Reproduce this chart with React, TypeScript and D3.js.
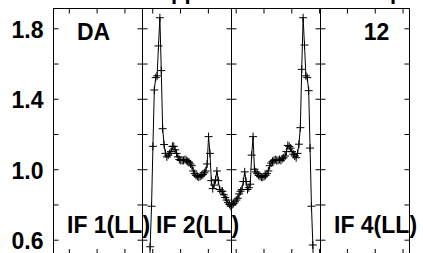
import { useEffect, useRef } from "react";
import * as d3 from "d3";

// Panels: four IFs of 32 MHz, 64 channels each
const ifLabels = ["IF 1(LL)", "IF 2(LL)", "", "IF 4(LL)"];
const ifStartMHz = [4.5, 36.5, 68.5, 100.5];
const ifWidthMHz = 32;
const chanWidthMHz = 0.5;

const xTickValues = [10, 20, 30, 40, 50, 60, 70, 80, 90, 100, 110, 120, 130];
const yTickValues = [0.6, 0.8, 1.0, 1.2, 1.4, 1.6, 1.8];
const yTickLabels = ["0.6", "", "1.0", "", "1.4", "", "1.8"];

const baselineLeft = "DA";
const baselineRight = "12";
const title = "Applied to data in sample";

// normalised amplitude per channel
const ampIF1: number[] = [];
const ampIF2 = [
  0.05, 0.05, 0.08, 0.12, 0.25, 0.56, 0.79, 1.13, 1.45, 1.52, 1.53, 1.7, 1.86, 1.56, 1.23, 1.14,
  1.09, 1.07, 1.08, 1.09, 1.1, 1.13, 1.13, 1.11, 1.09, 1.07, 1.055, 1.05, 1.05, 1.05, 1.055, 1.05,
  1.045, 1.04, 1.03, 1.02, 0.99, 0.975, 0.965, 0.96, 0.955, 0.96, 0.965, 0.97, 0.98, 0.99, 1.03, 1.185,
  1.09, 0.935, 0.89, 0.91, 0.94, 0.99, 0.935, 0.885, 0.875, 0.875, 0.855, 0.84, 0.825, 0.81, 0.8, 0.79,
];
const ampIF3 = [
  0.8, 0.805, 0.815, 0.825, 0.835, 0.86, 0.875, 0.885, 0.93, 0.985, 0.93, 0.885, 0.895, 0.915, 1.08, 1.185,
  1.0, 0.985, 0.975, 0.965, 0.96, 0.955, 0.955, 0.96, 0.965, 0.975, 0.99, 1.02, 1.035, 1.045, 1.05, 1.055,
  1.05, 1.05, 1.055, 1.05, 1.06, 1.065, 1.075, 1.1, 1.135, 1.13, 1.12, 1.1, 1.085, 1.075, 1.065, 1.09,
  1.142, 1.236, 1.567, 1.86, 1.705, 1.53, 1.52, 1.446, 1.12, 0.79, 0.57, 0.25, 0.12, 0.08, 0.05, 0.05,
];
const ampIF4: number[] = [];
const ampByIF = [ampIF1, ampIF2, ampIF3, ampIF4];

export default function App() {
  const svgRef = useRef<SVGSVGElement>(null);
  const width = 423;
  const height = 253;

  useEffect(() => {
    if (!svgRef.current) return;
    const svg = d3.select(svgRef.current);
    const font = "'Liberation Sans', Arial, Helvetica, sans-serif";

    const plotLeft = 53.5;
    const panelW = 89;
    const plotTop = 8.5;
    const plotBottom = 254;

    const y = d3.scaleLinear([0.5188, 1.9124], [plotBottom, plotTop]);

    // cropped title, only descenders reach the picture
    svg.append("text")
      .attr("x", 155.2)
      .attr("y", -1)
      .attr("font-family", font)
      .attr("font-weight", "bold")
      .attr("font-size", 22)
      .attr("fill", "#000")
      .text(title);

    ifStartMHz.forEach((start, k) => {
      const left = plotLeft + k * panelW;
      const right = left + panelW;
      const x = d3.scaleLinear([start, start + ifWidthMHz], [left, right]);
      const ticks = xTickValues.filter(t => t > start && t < start + ifWidthMHz);
      const g = svg.append("g");

      const clipId = `clip-if${k}`;
      g.append("clipPath").attr("id", clipId)
        .append("rect")
        .attr("x", left).attr("y", plotTop)
        .attr("width", panelW).attr("height", plotBottom - plotTop);

      // top and bottom ticks, pointing inward
      g.append("g")
        .attr("transform", `translate(0,${plotTop})`)
        .call(d3.axisTop(x).tickValues(ticks).tickSize(-5).tickFormat(() => ""))
        .call(a => a.select(".domain").remove());
      g.append("g")
        .attr("transform", `translate(0,${plotBottom})`)
        .call(d3.axisBottom(x).tickValues(ticks).tickSize(-5).tickFormat(() => ""))
        .call(a => a.select(".domain").remove());

      // left and right ticks, pointing inward
      g.append("g")
        .attr("transform", `translate(${left},0)`)
        .call(d3.axisLeft(y).tickValues(yTickValues).tickSize(-5).tickPadding(10)
          .tickFormat((d, i) => (k === 0 ? yTickLabels[i] : "")))
        .call(a => a.select(".domain").remove())
        .call(a => a.selectAll("text")
          .attr("font-family", font)
          .attr("font-weight", "bold")
          .attr("font-size", 23)
          .attr("dy", "0.4em"));
      g.append("g")
        .attr("transform", `translate(${right},0)`)
        .call(d3.axisRight(y).tickValues(yTickValues).tickSize(-5).tickFormat(() => ""))
        .call(a => a.select(".domain").remove());

      // frame
      g.append("rect")
        .attr("x", left).attr("y", plotTop)
        .attr("width", panelW).attr("height", plotBottom - plotTop)
        .attr("fill", "none")
        .attr("stroke", "#000")
        .attr("stroke-width", 1);

      // data
      const amp = ampByIF[k];
      if (amp.length) {
        const pts: [number, number][] = amp.map((v, i) => [
          x(start + (i + 0.5) * chanWidthMHz),
          y(v),
        ]);
        const line = d3.line();
        const dg = g.append("g").attr("clip-path", `url(#${clipId})`);
        dg.append("path")
          .attr("fill", "none")
          .attr("stroke", "#000")
          .attr("stroke-width", 1)
          .attr("d", line(pts));
        dg.selectAll("path.mark")
          .data(pts)
          .join("path")
          .attr("class", "mark")
          .attr("transform", d => `translate(${d[0]},${d[1]})`)
          .attr("d", "M-4,0H4M0,-4V4")
          .attr("stroke", "#000")
          .attr("stroke-width", 1)
          .attr("fill", "none");
      }

      // IF label
      if (ifLabels[k]) {
        g.append("text")
          .attr("x", left + 13.5)
          .attr("y", 233.3)
          .attr("font-family", font)
          .attr("font-weight", "bold")
          .attr("font-size", 23)
          .attr("fill", "#000")
          .text(ifLabels[k]);
      }
    });

    // baseline antennas
    svg.append("text")
      .attr("x", 77)
      .attr("y", 40)
      .attr("font-family", font)
      .attr("font-weight", "bold")
      .attr("font-size", 23)
      .attr("fill", "#000")
      .text(baselineLeft);
    svg.append("text")
      .attr("x", 389.3)
      .attr("y", 40)
      .attr("text-anchor", "end")
      .attr("font-family", font)
      .attr("font-weight", "bold")
      .attr("font-size", 23)
      .attr("fill", "#000")
      .text(baselineRight);

    return () => {
      svg.selectAll("*").remove();
    };
  }, []);

  return (
    <svg
      ref={svgRef}
      width={width}
      height={height}
      viewBox={`0 0 ${width} ${height}`}
      style={{ position: "absolute", left: 0, top: 0, display: "block", background: "#fff", color: "#000" }}
    />
  );
}
